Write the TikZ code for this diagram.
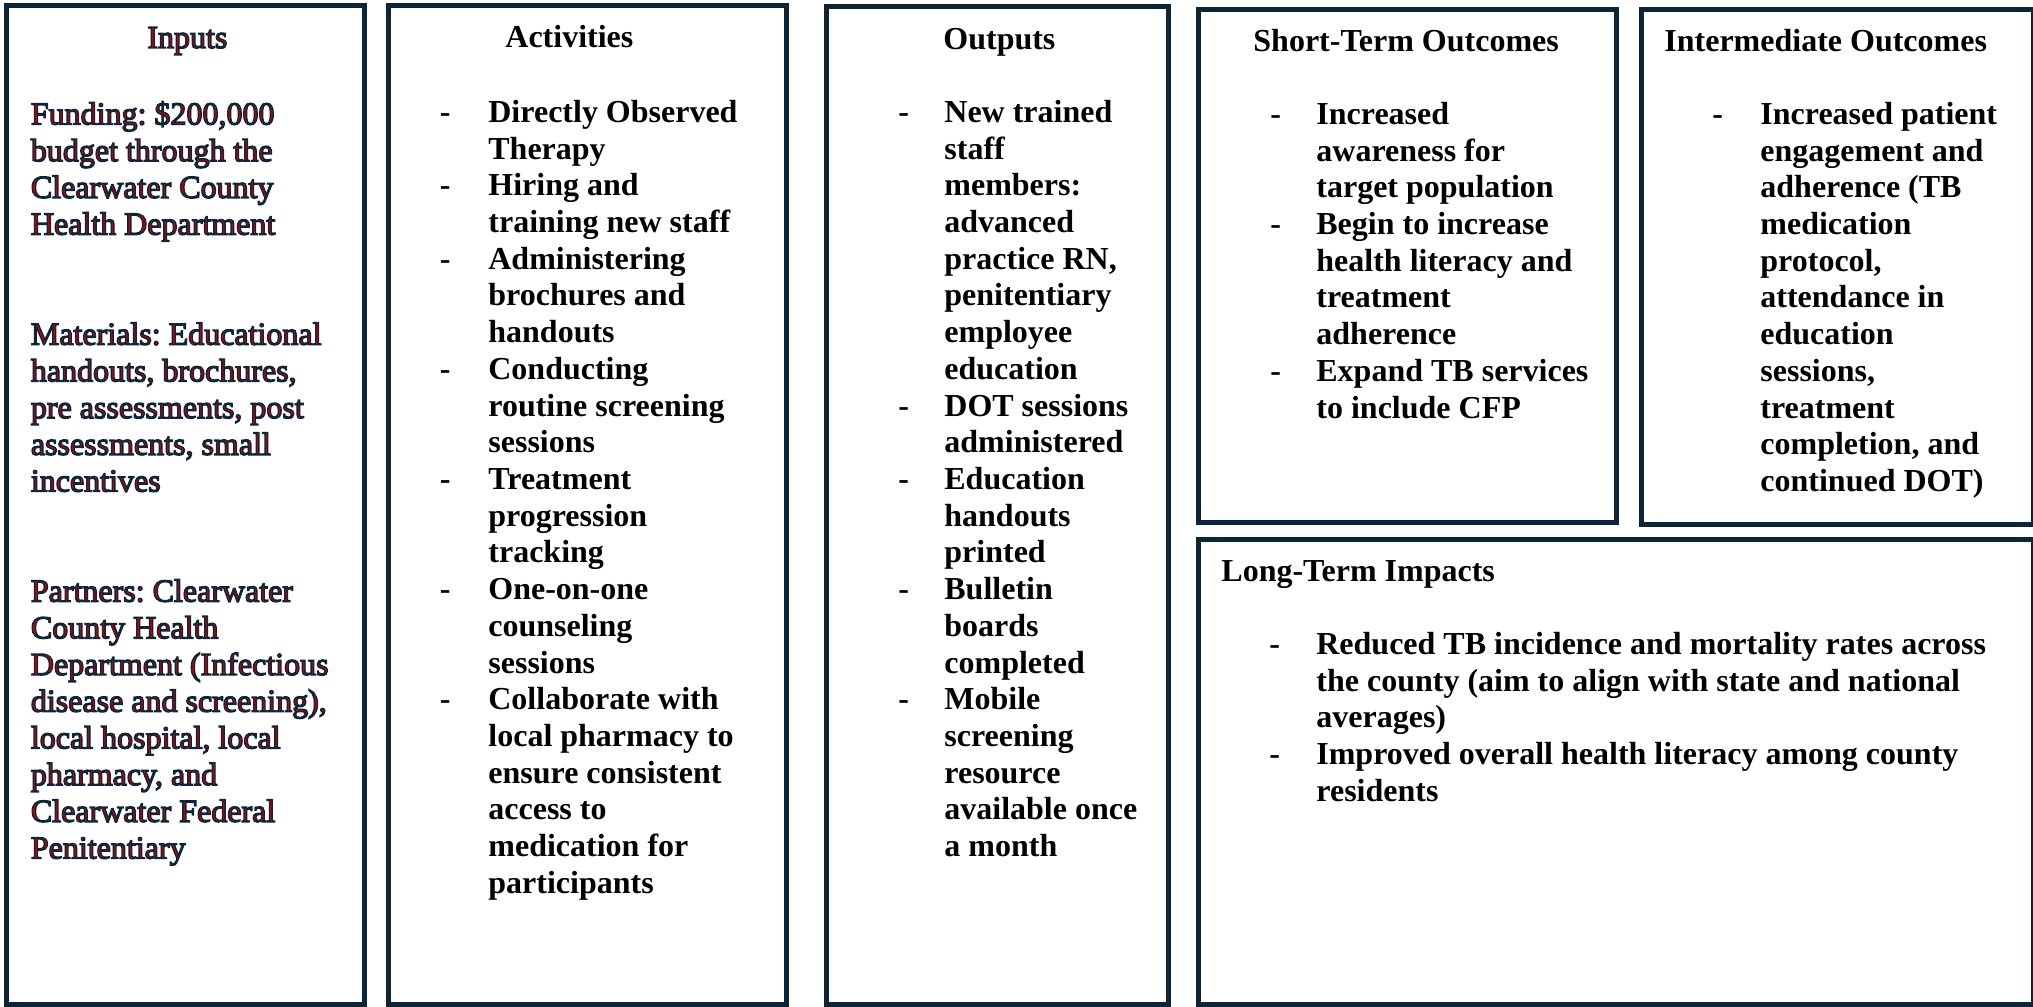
\documentclass[tikz,border=0pt]{standalone}
\usepackage{fontspec}
\setmainfont{Liberation Serif}
\usetikzlibrary{fit}

\definecolor{boxnavy}{HTML}{0D2536}
\definecolor{inred}{HTML}{C00000}

\newcommand{\redoutline}{\color{inred}\special{pdf:literal direct 2 Tr 0.7 w 0.05 0.145 0.21 RG}}
\newcommand{\plainfill}{\special{pdf:literal direct 0 Tr}}

\newenvironment{dashlist}[1]{\begin{tabular}[t]{@{}p{#1}@{}l@{}}}{\end{tabular}}

\frenchspacing

\begin{document}
\begin{tikzpicture}[x=0.5pt,y=-0.5pt]
	\tikzset{
		panel/.style={draw=boxnavy,line width=2.5pt,inner sep=0pt,outer sep=0pt},
		txt/.style={anchor=base west,inner sep=0pt,font=\fontsize{16}{18.35}\selectfont},
		head/.style={txt,font=\fontsize{16}{18.35}\selectfont\bfseries}
	}

		\useasboundingbox (0,0) rectangle (2033,1006);

		\node[panel,fit={(6.5,6) (364.5,1004.5)}] (inputs) {};
		\node[panel,fit={(388,5.5) (786,1004.5)}] (activities) {};
		\node[panel,fit={(826,7) (1168,1004.5)}] (outputs) {};
		\node[panel,fit={(1198,10) (1616,522)}] (shortterm) {};
		\node[panel,fit={(1641.5,9.5) (2033,524.5)}] (intermediate) {};
		\node[panel,fit={(1198,539.5) (2033,1004.5)}] (longterm) {};

		\node[txt] (inputshead) at (147,48) {\redoutline Inputs\plainfill};
		\node[txt] (inputsbody) at (30.5,124.5) {\redoutline\begin{tabular}[t]{@{}l@{}}
			Funding: \$200,000\\ budget through the\\ Clearwater County\\ Health Department\\ \\ \\
			Materials: Educational\\ handouts, brochures,\\ pre assessments, post\\ assessments, small\\ incentives\\ \\ \\
			Partners: Clearwater\\ County Health\\ Department (Infectious\\ disease and screening),\\ local hospital, local\\ pharmacy, and\\ Clearwater Federal\\ Penitentiary
		\end{tabular}\plainfill};

		\node[head] (activitieshead) at (505,47.5) {Activities};
		\node[head] (activitiesbody) at (439.5,122.5) {\begin{dashlist}{24.25pt}
			- & Directly Observed\\ & Therapy\\
			- & Hiring and\\ & training new staff\\
			- & Administering\\ & brochures and\\ & handouts\\
			- & Conducting\\ & routine screening\\ & sessions\\
			- & Treatment\\ & progression\\ & tracking\\
			- & One-on-one\\ & counseling\\ & sessions\\
			- & Collaborate with\\ & local pharmacy to\\ & ensure consistent\\ & access to\\ & medication for\\ & participants
		\end{dashlist}};

		\node[head] (outputshead) at (943,49.5) {Outputs};
		\node[head] (outputsbody) at (898,122.5) {\begin{dashlist}{23pt}
			- & New trained\\ & staff\\ & members:\\ & advanced\\ & practice RN,\\ & penitentiary\\ & employee\\ & education\\
			- & DOT sessions\\ & administered\\
			- & Education\\ & handouts\\ & printed\\
			- & Bulletin\\ & boards\\ & completed\\
			- & Mobile\\ & screening\\ & resource\\ & available once\\ & a month
		\end{dashlist}};

		\node[head] (shorthead) at (1253,52) {Short-Term Outcomes};
		\node[head] (shortbody) at (1270,124.5) {\begin{dashlist}{23pt}
			- & Increased\\ & awareness for\\ & target population\\
			- & Begin to increase\\ & health literacy and\\ & treatment\\ & adherence\\
			- & Expand TB services\\ & to include CFP
		\end{dashlist}};

		\node[head] (interhead) at (1664,52) {Intermediate Outcomes};
		\node[head] (interbody) at (1712,124.5) {\begin{dashlist}{24pt}
			- & Increased patient\\ & engagement and\\ & adherence (TB\\ & medication\\ & protocol,\\ & attendance in\\ & education\\ & sessions,\\ & treatment\\ & completion, and\\ & continued DOT)
		\end{dashlist}};

		\node[head] (longhead) at (1221,581) {Long-Term Impacts};
		\node[head] (longbody) at (1269,654.5) {\begin{dashlist}{23.5pt}
			- & Reduced TB incidence and mortality rates across\\ & the county (aim to align with state and national\\ & averages)\\
			- & Improved overall health literacy among county\\ & residents
		\end{dashlist}};

	\end{tikzpicture}
\end{document}
